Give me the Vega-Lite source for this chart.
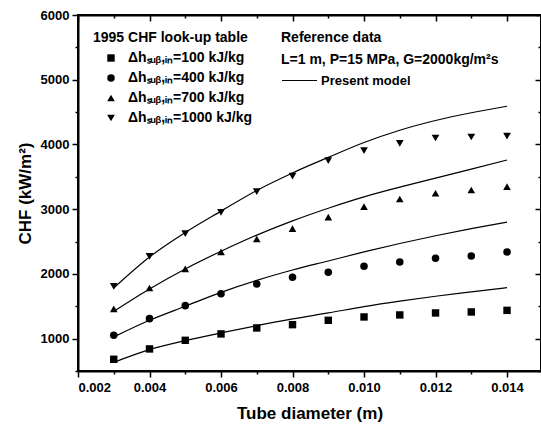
{
  "$schema": "https://vega.github.io/schema/vega-lite/v6.json",
  "autosize": "none",
  "padding": {"left": 78, "top": 15, "right": 0, "bottom": 58},
  "width": 463,
  "height": 356,
  "background": "white",
  "config": {
    "font": "Liberation Sans",
    "view": {"stroke": "black", "strokeWidth": 2},
    "axis": {"grid": false, "domainColor": "black", "domainWidth": 2, "tickColor": "black", "tickWidth": 1.5, "labelColor": "black", "labelFont": "Liberation Sans", "labelFontWeight": "bold", "labelFontSize": 13, "titleFont": "Liberation Sans", "titleFontWeight": "bold", "titleFontSize": 17, "titleColor": "black"},
    "legend": {"titleFont": "Liberation Sans", "titleFontWeight": "bold", "titleFontSize": 14, "titleColor": "black", "labelFont": "Liberation Sans", "labelFontWeight": "bold", "labelFontSize": 14, "labelColor": "black", "titleLimit": 400, "labelLimit": 400, "padding": 0}
  },
  "data": {"values": [
    {"d": 0.003, "dh": 100, "kind": "lookup", "chf": 681},
    {"d": 0.004, "dh": 100, "kind": "lookup", "chf": 841},
    {"d": 0.005, "dh": 100, "kind": "lookup", "chf": 974},
    {"d": 0.006, "dh": 100, "kind": "lookup", "chf": 1073},
    {"d": 0.007, "dh": 100, "kind": "lookup", "chf": 1165},
    {"d": 0.008, "dh": 100, "kind": "lookup", "chf": 1216},
    {"d": 0.009, "dh": 100, "kind": "lookup", "chf": 1283},
    {"d": 0.010, "dh": 100, "kind": "lookup", "chf": 1335},
    {"d": 0.011, "dh": 100, "kind": "lookup", "chf": 1366},
    {"d": 0.012, "dh": 100, "kind": "lookup", "chf": 1397},
    {"d": 0.013, "dh": 100, "kind": "lookup", "chf": 1412},
    {"d": 0.014, "dh": 100, "kind": "lookup", "chf": 1437},
    {"d": 0.003, "dh": 400, "kind": "lookup", "chf": 1051},
    {"d": 0.004, "dh": 400, "kind": "lookup", "chf": 1309},
    {"d": 0.005, "dh": 400, "kind": "lookup", "chf": 1510},
    {"d": 0.006, "dh": 400, "kind": "lookup", "chf": 1695},
    {"d": 0.007, "dh": 400, "kind": "lookup", "chf": 1845},
    {"d": 0.008, "dh": 400, "kind": "lookup", "chf": 1947},
    {"d": 0.009, "dh": 400, "kind": "lookup", "chf": 2024},
    {"d": 0.010, "dh": 400, "kind": "lookup", "chf": 2117},
    {"d": 0.011, "dh": 400, "kind": "lookup", "chf": 2185},
    {"d": 0.012, "dh": 400, "kind": "lookup", "chf": 2241},
    {"d": 0.013, "dh": 400, "kind": "lookup", "chf": 2277},
    {"d": 0.014, "dh": 400, "kind": "lookup", "chf": 2339},
    {"d": 0.003, "dh": 700, "kind": "lookup", "chf": 1459},
    {"d": 0.004, "dh": 700, "kind": "lookup", "chf": 1783},
    {"d": 0.005, "dh": 700, "kind": "lookup", "chf": 2077},
    {"d": 0.006, "dh": 700, "kind": "lookup", "chf": 2340},
    {"d": 0.007, "dh": 700, "kind": "lookup", "chf": 2540},
    {"d": 0.008, "dh": 700, "kind": "lookup", "chf": 2700},
    {"d": 0.009, "dh": 700, "kind": "lookup", "chf": 2878},
    {"d": 0.010, "dh": 700, "kind": "lookup", "chf": 3040},
    {"d": 0.011, "dh": 700, "kind": "lookup", "chf": 3158},
    {"d": 0.012, "dh": 700, "kind": "lookup", "chf": 3246},
    {"d": 0.013, "dh": 700, "kind": "lookup", "chf": 3297},
    {"d": 0.014, "dh": 700, "kind": "lookup", "chf": 3349},
    {"d": 0.003, "dh": 1000, "kind": "lookup", "chf": 1808},
    {"d": 0.004, "dh": 1000, "kind": "lookup", "chf": 2271},
    {"d": 0.005, "dh": 1000, "kind": "lookup", "chf": 2622},
    {"d": 0.006, "dh": 1000, "kind": "lookup", "chf": 2952},
    {"d": 0.007, "dh": 1000, "kind": "lookup", "chf": 3270},
    {"d": 0.008, "dh": 1000, "kind": "lookup", "chf": 3511},
    {"d": 0.009, "dh": 1000, "kind": "lookup", "chf": 3750},
    {"d": 0.010, "dh": 1000, "kind": "lookup", "chf": 3905},
    {"d": 0.011, "dh": 1000, "kind": "lookup", "chf": 4018},
    {"d": 0.012, "dh": 1000, "kind": "lookup", "chf": 4100},
    {"d": 0.013, "dh": 1000, "kind": "lookup", "chf": 4115},
    {"d": 0.014, "dh": 1000, "kind": "lookup", "chf": 4130},
    {"d": 0.003, "dh": 100, "kind": "Present model", "chf": 634},
    {"d": 0.004, "dh": 100, "kind": "Present model", "chf": 830},
    {"d": 0.005, "dh": 100, "kind": "Present model", "chf": 969},
    {"d": 0.006, "dh": 100, "kind": "Present model", "chf": 1088},
    {"d": 0.007, "dh": 100, "kind": "Present model", "chf": 1200},
    {"d": 0.008, "dh": 100, "kind": "Present model", "chf": 1304},
    {"d": 0.009, "dh": 100, "kind": "Present model", "chf": 1397},
    {"d": 0.010, "dh": 100, "kind": "Present model", "chf": 1495},
    {"d": 0.011, "dh": 100, "kind": "Present model", "chf": 1580},
    {"d": 0.012, "dh": 100, "kind": "Present model", "chf": 1655},
    {"d": 0.013, "dh": 100, "kind": "Present model", "chf": 1722},
    {"d": 0.014, "dh": 100, "kind": "Present model", "chf": 1788},
    {"d": 0.003, "dh": 400, "kind": "Present model", "chf": 1026},
    {"d": 0.004, "dh": 400, "kind": "Present model", "chf": 1283},
    {"d": 0.005, "dh": 400, "kind": "Present model", "chf": 1500},
    {"d": 0.006, "dh": 400, "kind": "Present model", "chf": 1715},
    {"d": 0.007, "dh": 400, "kind": "Present model", "chf": 1900},
    {"d": 0.008, "dh": 400, "kind": "Present model", "chf": 2060},
    {"d": 0.009, "dh": 400, "kind": "Present model", "chf": 2200},
    {"d": 0.010, "dh": 400, "kind": "Present model", "chf": 2340},
    {"d": 0.011, "dh": 400, "kind": "Present model", "chf": 2470},
    {"d": 0.012, "dh": 400, "kind": "Present model", "chf": 2590},
    {"d": 0.013, "dh": 400, "kind": "Present model", "chf": 2700},
    {"d": 0.014, "dh": 400, "kind": "Present model", "chf": 2800},
    {"d": 0.003, "dh": 700, "kind": "Present model", "chf": 1422},
    {"d": 0.004, "dh": 700, "kind": "Present model", "chf": 1768},
    {"d": 0.005, "dh": 700, "kind": "Present model", "chf": 2077},
    {"d": 0.006, "dh": 700, "kind": "Present model", "chf": 2350},
    {"d": 0.007, "dh": 700, "kind": "Present model", "chf": 2600},
    {"d": 0.008, "dh": 700, "kind": "Present model", "chf": 2820},
    {"d": 0.009, "dh": 700, "kind": "Present model", "chf": 3015},
    {"d": 0.010, "dh": 700, "kind": "Present model", "chf": 3190},
    {"d": 0.011, "dh": 700, "kind": "Present model", "chf": 3340},
    {"d": 0.012, "dh": 700, "kind": "Present model", "chf": 3480},
    {"d": 0.013, "dh": 700, "kind": "Present model", "chf": 3620},
    {"d": 0.014, "dh": 700, "kind": "Present model", "chf": 3760},
    {"d": 0.003, "dh": 1000, "kind": "Present model", "chf": 1783},
    {"d": 0.004, "dh": 1000, "kind": "Present model", "chf": 2262},
    {"d": 0.005, "dh": 1000, "kind": "Present model", "chf": 2640},
    {"d": 0.006, "dh": 1000, "kind": "Present model", "chf": 2970},
    {"d": 0.007, "dh": 1000, "kind": "Present model", "chf": 3290},
    {"d": 0.008, "dh": 1000, "kind": "Present model", "chf": 3560},
    {"d": 0.009, "dh": 1000, "kind": "Present model", "chf": 3800},
    {"d": 0.010, "dh": 1000, "kind": "Present model", "chf": 4030},
    {"d": 0.011, "dh": 1000, "kind": "Present model", "chf": 4220},
    {"d": 0.012, "dh": 1000, "kind": "Present model", "chf": 4370},
    {"d": 0.013, "dh": 1000, "kind": "Present model", "chf": 4490},
    {"d": 0.014, "dh": 1000, "kind": "Present model", "chf": 4590}
  ]},
  "layer": [
    {
      "transform": [{"filter": "datum.kind == 'lookup'"}],
      "mark": {"type": "point", "filled": true, "color": "black", "opacity": 1},
      "encoding": {
        "x": {"field": "d", "type": "quantitative",
          "scale": {"domain": [0.002, 0.01495], "nice": false, "zero": false},
          "axis": {"orient": "bottom", "title": "Tube diameter (m)", "titlePadding": 11,
            "values": [0.002, 0.003, 0.004, 0.005, 0.006, 0.007, 0.008, 0.009, 0.010, 0.011, 0.012, 0.013, 0.014],
            "labelExpr": "round(datum.value*1000) % 2 == 0 ? format(datum.value, '.3f') : ''",
            "tickSize": {"condition": {"test": "round(datum.value*1000) % 2 == 0", "value": 6}, "value": 3},
            "labelPadding": 4}},
        "y": {"field": "chf", "type": "quantitative",
          "scale": {"domain": [500, 6000], "nice": false, "zero": false},
          "axis": {"orient": "left", "title": "CHF (kW/m²)", "titlePadding": 6,
            "values": [500, 1000, 1500, 2000, 2500, 3000, 3500, 4000, 4500, 5000, 5500, 6000],
            "labelExpr": "datum.value % 1000 == 0 ? format(datum.value, 'd') : ''",
            "tickSize": {"condition": {"test": "datum.value % 1000 == 0", "value": 6}, "value": 3},
            "labelPadding": 3}},
        "shape": {"field": "dh", "type": "nominal",
          "scale": {"domain": [100, 400, 700, 1000], "range": ["square", "circle", "triangle-up", "triangle-down"]},
          "legend": {"title": "1995 CHF look-up table", "orient": "none", "legendX": 15, "legendY": 16,
            "labelExpr": "'Δhₛᵤᵦ,ᵢₙ=' + datum.label + ' kJ/kg'",
            "symbolFillColor": "black", "symbolStrokeColor": "black", "symbolStrokeWidth": 0,
            "symbolOffset": 11, "labelOffset": 10, "rowPadding": 6, "titlePadding": 6}},
        "size": {"field": "dh", "type": "nominal",
          "scale": {"domain": [100, 400, 700, 1000], "range": [55, 60, 85, 85]},
          "legend": {"title": "1995 CHF look-up table", "orient": "none", "legendX": 15, "legendY": 16,
            "labelExpr": "'Δhₛᵤᵦ,ᵢₙ=' + datum.label + ' kJ/kg'",
            "symbolFillColor": "black", "symbolStrokeColor": "black", "symbolStrokeWidth": 0,
            "symbolOffset": 11, "labelOffset": 10, "rowPadding": 6, "titlePadding": 6}}
      }
    },
    {
      "transform": [{"filter": "datum.kind == 'Present model'"}],
      "mark": {"type": "line", "strokeWidth": 1.2, "interpolate": "monotone"},
      "encoding": {
        "x": {"field": "d", "type": "quantitative",
          "axis": {"orient": "top", "title": null, "labels": false,
            "values": [0.002, 0.003, 0.004, 0.005, 0.006, 0.007, 0.008, 0.009, 0.010, 0.011, 0.012, 0.013, 0.014],
            "tickSize": {"condition": {"test": "round(datum.value*1000) % 2 == 0", "value": -6}, "value": -3}}},
        "y": {"field": "chf", "type": "quantitative",
          "axis": {"orient": "right", "title": null, "labels": false,
            "values": [500, 1000, 1500, 2000, 2500, 3000, 3500, 4000, 4500, 5000, 5500, 6000],
            "tickSize": {"condition": {"test": "datum.value % 1000 == 0", "value": -6}, "value": -3}}},
        "detail": {"field": "dh", "type": "nominal"},
        "stroke": {"field": "kind", "type": "nominal", "scale": {"range": ["black"]},
          "legend": {"title": ["Reference data", "L=1 m, P=15 MPa, G=2000kg/m²s"], "orient": "none", "legendX": 203, "legendY": 16,
            "symbolType": "stroke", "symbolSize": 1225, "symbolStrokeWidth": 1.2, "symbolStrokeColor": "black",
            "labelFontSize": 13, "labelOffset": 3, "titleLineHeight": 22, "titlePadding": -5}}
      }
    }
  ],
  "resolve": {"axis": {"x": "independent", "y": "independent"}}
}
